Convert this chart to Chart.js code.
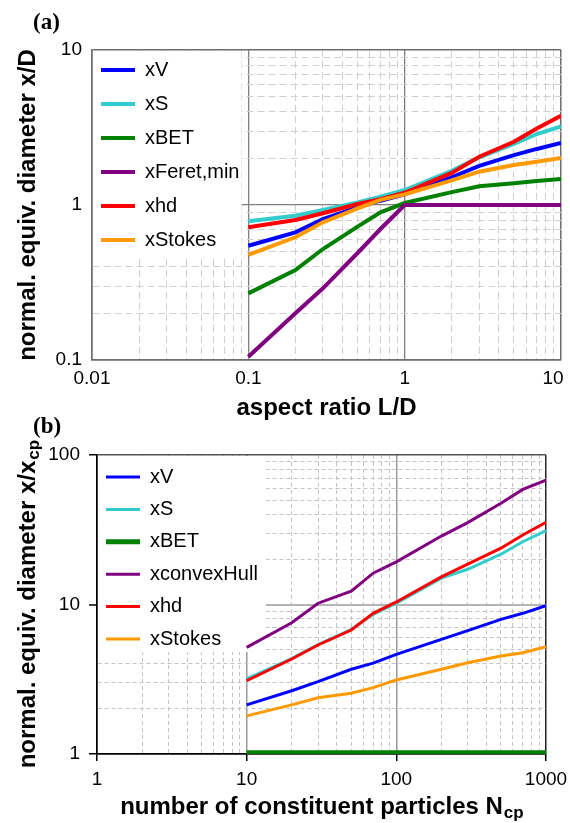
<!DOCTYPE html>
<html>
<head>
<meta charset="utf-8">
<script src="https://cdn.jsdelivr.net/npm/chart.js@4.4.1/dist/chart.umd.min.js"></script>
<style>
  html, body { margin: 0; padding: 0; background: #fff; }
  #wrap { position: relative; width: 570px; height: 823px; }
  #wrap canvas { position: absolute; left: 0; }
  #chartA { top: 0; }
  #chartB { top: 405px; }
</style>
</head>
<body>
<div id="wrap">
  <canvas id="chartA" width="570" height="430"></canvas>
  <canvas id="chartB" width="570" height="418"></canvas>
</div>
<script>
// === (a) normalised diameters vs aspect ratio L/D ===
const ratioLD   = [0.1, 0.2, 0.3, 0.5, 0.7, 1, 2, 3, 5, 7, 10];
const aV        = [0.546, 0.666, 0.81, 0.966, 1.066, 1.17, 1.51, 1.79, 2.10, 2.30, 2.51];
const aS        = [0.785, 0.853, 0.93, 1.04, 1.13, 1.25, 1.66, 2.03, 2.48, 2.87, 3.22];
const aBET      = [0.269, 0.38, 0.52, 0.725, 0.897, 1.03, 1.21, 1.32, 1.38, 1.43, 1.47];
const aFeretMin = [0.105, 0.2, 0.29, 0.49, 0.7, 1, 1, 1, 1, 1, 1];
const aHd       = [0.718, 0.80, 0.884, 1.015, 1.09, 1.20, 1.61, 2.05, 2.56, 3.12, 3.77];
const aStokes   = [0.476, 0.619, 0.773, 0.95, 1.08, 1.17, 1.44, 1.64, 1.81, 1.90, 2.01];

// === (b) normalised diameters vs number of constituent particles ===
const nCp        = [10, 20, 30, 50, 70, 100, 200, 300, 500, 700, 1000];
const bV         = [2.13, 2.65, 3.05, 3.69, 4.05, 4.64, 5.85, 6.68, 7.95, 8.73, 9.82];
const bS         = [3.18, 4.35, 5.4, 6.8, 8.6, 10.2, 15.0, 17.2, 21.7, 26.3, 31.2];
const bBET       = [1.02, 1.02, 1.02, 1.02, 1.02, 1.02, 1.02, 1.02, 1.02, 1.02, 1.02];
const bConvexHull= [5.17, 7.55, 10.2, 12.3, 16.2, 19.3, 28.7, 35.3, 47.5, 58.9, 68];
const bHd        = [3.09, 4.32, 5.36, 6.75, 8.73, 10.4, 15.3, 18.6, 23.8, 29.2, 35.5];
const bStokes    = [1.80, 2.13, 2.38, 2.55, 2.78, 3.13, 3.69, 4.08, 4.52, 4.76, 5.22];

// labelled decades of each axis
const labelsAx = [0.01, 0.1, 1, 10];
const labelsAy = [0.1, 1, 10];
const labelsBx = [1, 10, 100, 1000];
const labelsBy = [1, 10, 100];

const SANS = "'Liberation Sans', Arial, sans-serif";
const SERIF = "'Liberation Serif', 'Times New Roman', serif";

// 1..9 inside every decade -> the dashed minor grid
function decadeGrid(majors) {
  const out = [];
  for (let i = 0; i < majors.length - 1; i++) {
    for (let k = 1; k < 10; k++) out.push(+(majors[i] * k).toPrecision(6));
  }
  out.push(majors[majors.length - 1]);
  return out;
}

function makeDatasets(xs, list, width) {
  return list.map((s, i) => ({
    label: s.label,
    data: xs.map((x, k) => ({ x, y: s.values[k] })),
    borderColor: s.color,
    backgroundColor: s.color,
    borderWidth: s.width || width,
    pointRadius: 0,
    tension: 0,
    order: list.length - i // later series on top, like the original
  }));
}

function logAxis(o) {
  const grid = decadeGrid(o.labels);
  const lo = o.labels[0], hi = o.labels[o.labels.length - 1];
  const st = o.style;
  const kind = (c) => {
    if (!c.tick) return "major";
    const v = c.tick.value;
    if (v === lo) return "low";
    if (v === hi) return "high";
    return o.labels.includes(v) ? "major" : "minor";
  };
  return {
    type: "logarithmic",
    position: o.position,
    min: lo,
    max: hi,
    afterBuildTicks: (s) => { s.ticks = grid.map((v) => ({ value: v, major: o.labels.includes(v) })); },
    afterFit: (s) => {
      // plot box is fixed to the figure, no extra room for edge labels
      s.paddingLeft = 0;
      s.paddingRight = 0;
      s.paddingTop = 0;
      s.paddingBottom = 0;
      o.fit(s);
    },
    title: {
      display: true,
      text: o.title,
      color: "#000",
      font: { family: SANS, size: 24, weight: "bold" },
      padding: o.titlePad
    },
    ticks: {
      autoSkip: false,
      maxRotation: 0,
      color: "#000",
      font: { family: SANS, size: 19 },
      padding: o.tickPad,
      callback: (v) => {
        if (!o.labels.includes(v)) return "";
        // last label pulled inside the figure edge (trailing spaces shift the centred text)
        return v === hi && o.pullLast ? String(v) + "   " : String(v);
      }
    },
    grid: {
      drawTicks: o.tickLen > 0,
      tickLength: o.tickLen || 0,
      tickWidth: 1.5,
      tickColor: (c) => (kind(c) === "minor" ? "rgba(0,0,0,0)" : st.tick),
      color: (c) => st[kind(c)].color,
      lineWidth: (c) => st[kind(c)].width
    },
    border: {
      display: true,
      color: st.axis,
      width: 1.5,
      dash: (c) => (c.tick && kind(c) === "minor" ? st.dash : [])
    }
  };
}

// places the legend inside the plot and puts a white panel behind it
const legendInset = {
  id: "legendInset",
  afterLayout(chart, args, opts) {
    const lg = chart.legend;
    if (!lg) return;
    const lab = lg.options.labels;
    const fs = Chart.helpers.toFont(lab.font).size;
    const pad = lab.padding;
    lg.left = opts.x - pad;
    lg.top = opts.y - fs / 2 - pad;
    lg.right = chart.chartArea.right;
    lg.bottom = chart.chartArea.bottom;
    if (lg._inset) return;
    const draw = lg.draw.bind(lg);
    lg.draw = function (area) {
      const ctx = chart.ctx;
      const items = lg.legendItems || [];
      const font = Chart.helpers.toFont(lg.options.labels.font);
      ctx.save();
      ctx.font = font.string;
      const maxW = Math.max(...items.map((it) => ctx.measureText(it.text).width));
      const p = lg.options.labels.padding;
      const x0 = chart.chartArea.left + 1;
      const y0 = chart.chartArea.top + 1;
      const right = lg.left + p + lg.options.labels.pointStyleWidth + font.size / 2 + maxW + opts.padRight;
      const bottom = lg.top + p + (items.length - 1) * (font.size + p) + font.size + opts.padBottom;
      ctx.fillStyle = "#fff";
      ctx.fillRect(x0, y0, right - x0, bottom - y0);
      ctx.restore();
      draw(area);
    };
    lg._inset = true;
  }
};

// panel tag "(a)"/"(b)" and the subscripts of the axis titles
const figureText = {
  id: "figureText",
  afterDraw(chart, args, opts) {
    const ctx = chart.ctx;
    const H = Chart.helpers;
    ctx.save();
    if (opts.tag) {
      ctx.font = "bold 23px " + SERIF;
      ctx.fillStyle = "#000";
      ctx.textBaseline = "alphabetic";
      ctx.textAlign = "left";
      ctx.fillText(opts.tag.text, opts.tag.x, opts.tag.y);
    }
    (opts.subs || []).forEach((a) => {
      const s = chart.scales[a.axis];
      const tf = H.toFont(s.options.title.font);
      const pad = H.toPadding(s.options.title.padding);
      ctx.font = tf.string;
      const wFull = ctx.measureText(s.options.title.text).width;
      const wMain = ctx.measureText(a.main).width;
      let cx, cy, rot;
      if (s.isHorizontal()) {
        cx = (s.left + s.right) / 2;
        cy = s.bottom - (tf.lineHeight / 2 + pad.bottom);
        rot = 0;
      } else {
        cx = s.left + tf.lineHeight / 2 + pad.top;
        cy = (s.top + s.bottom) / 2;
        rot = -Math.PI / 2;
      }
      ctx.save();
      ctx.translate(cx, cy);
      ctx.rotate(rot);
      ctx.font = "bold 17px " + SANS;
      ctx.fillStyle = "#000";
      ctx.textBaseline = "middle";
      ctx.textAlign = "left";
      ctx.fillText(a.sub, -wFull / 2 + wMain + 1, a.drop);
      ctx.restore();
    });
    ctx.restore();
  }
};

function legendOpts(padding) {
  return {
    position: "chartArea",
    align: "start",
    labels: {
      usePointStyle: true,
      pointStyle: "line",
      pointStyleWidth: 34,
      color: "#000",
      font: { family: SANS, size: 20 },
      padding: padding,
      sort: (a, b) => a.datasetIndex - b.datasetIndex
    }
  };
}

// ---------------- chart (a) ----------------
const styleA = {
  axis: "#6e6e6e",
  tick: "#6e6e6e",
  dash: [7, 4],
  minor: { color: "#d0d0d0", width: 1 },
  major: { color: "#808080", width: 1.3 },
  low: { color: "#6e6e6e", width: 1.5 },
  high: { color: "#6e6e6e", width: 1.5 }
};

new Chart(document.getElementById("chartA"), {
  type: "line",
  data: {
    datasets: makeDatasets(ratioLD, [
      { label: "xV", color: "#0000ff", values: aV },
      { label: "xS", color: "#33cccc", values: aS },
      { label: "xBET", color: "#008000", values: aBET },
      { label: "xFeret,min", color: "#800080", values: aFeretMin },
      { label: "xhd", color: "#ff0000", values: aHd },
      { label: "xStokes", color: "#ff9900", values: aStokes }
    ], 4)
  },
  options: {
    responsive: false,
    animation: false,
    layout: { padding: { top: 50, right: 9, left: 0, bottom: 0 } },
    scales: {
      x: logAxis({
        position: "bottom", labels: labelsAx, style: styleA, pullLast: true,
        title: "aspect ratio L/D", titlePad: { top: 0, bottom: 7 },
        tickPad: 7, tickLen: 0, fit: (s) => { s.height = 70; }
      }),
      y: logAxis({
        position: "left", labels: labelsAy, style: styleA,
        title: "normal. equiv. diameter x/D", titlePad: { top: 13.5, bottom: 0 },
        tickPad: 10, tickLen: 0, fit: (s) => { s.width = 92; }
      })
    },
    plugins: {
      legend: legendOpts(14),
      tooltip: { enabled: false },
      legendInset: { x: 101, y: 70, padRight: 2, padBottom: 6 },
      figureText: { tag: { text: "(a)", x: 33, y: 29 } }
    }
  },
  plugins: [legendInset, figureText]
});

// ---------------- chart (b) ----------------
const styleBx = {
  axis: "#000",
  tick: "#000",
  dash: [4, 3],
  minor: { color: "#c4c4c4", width: 1 },
  major: { color: "#999999", width: 1.5 },
  low: { color: "#000", width: 1.5 },
  high: { color: "#222", width: 1.5 }
};
const styleBy = Object.assign({}, styleBx, {
  major: { color: "#b4b4b4", width: 2 },
  high: { color: "#555", width: 1.5 }
});

new Chart(document.getElementById("chartB"), {
  type: "line",
  data: {
    datasets: makeDatasets(nCp, [
      { label: "xV", color: "#0000ff", values: bV },
      { label: "xS", color: "#33cccc", values: bS },
      { label: "xBET", color: "#008000", values: bBET, width: 5 },
      { label: "xconvexHull", color: "#800080", values: bConvexHull },
      { label: "xhd", color: "#ff0000", values: bHd },
      { label: "xStokes", color: "#ff9900", values: bStokes }
    ], 3)
  },
  options: {
    responsive: false,
    animation: false,
    layout: { padding: { top: 50, right: 24, left: 0, bottom: 0 } },
    scales: {
      x: logAxis({
        position: "bottom", labels: labelsBx, style: styleBx,
        title: "number of constituent particles N   ", titlePad: { top: 0, bottom: 1 },
        tickPad: 7, tickLen: 7, fit: (s) => { s.height = 69; }
      }),
      y: logAxis({
        position: "left", labels: labelsBy, style: styleBy,
        title: "normal. equiv. diameter x/x   ", titlePad: { top: 13.5, bottom: 0 },
        tickPad: 9, tickLen: 8, fit: (s) => { s.width = 97; }
      })
    },
    plugins: {
      legend: legendOpts(12.4),
      tooltip: { enabled: false },
      legendInset: { x: 106, y: 72, padRight: 8, padBottom: 3 },
      figureText: {
        tag: { text: "(b)", x: 33, y: 28 },
        subs: [
          { axis: "x", main: "number of constituent particles N", sub: "cp", drop: 6 },
          { axis: "y", main: "normal. equiv. diameter x/x", sub: "cp", drop: 6 }
        ]
      }
    }
  },
  plugins: [legendInset, figureText]
});
</script>
</body>
</html>
